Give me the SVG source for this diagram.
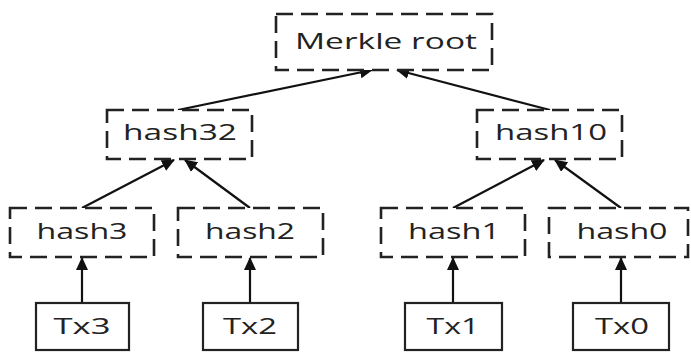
<svg xmlns="http://www.w3.org/2000/svg" width="691" height="353" viewBox="0 0 691 353">
  <style>
    .hash { fill: #fff; stroke: #222; stroke-width: 2.6; stroke-dasharray: 17 8; }
    .tx { fill: #fff; stroke: #222; stroke-width: 2.2; }
    .lbl { font-family: "Open Sans", "DejaVu Sans", sans-serif; font-size: 22px; fill: #222; text-anchor: middle; }
    .edge { stroke: #111; stroke-width: 2.2; fill: none; marker-end: url(#arrow); }
  </style>
  <defs>
    <marker id="arrow" viewBox="0 0 13 12" refX="12" refY="6" markerWidth="13" markerHeight="12" markerUnits="userSpaceOnUse" orient="auto">
      <path d="M0,0 L13,6 L0,12 Z" fill="#111"/>
    </marker>
  </defs>
  <rect width="691" height="353" fill="#fff"/>

  <g id="connectors">
    <line class="edge" x1="82" y1="303" x2="82" y2="258"/>
    <line class="edge" x1="250" y1="303" x2="250" y2="258"/>
    <line class="edge" x1="453" y1="303" x2="453" y2="258"/>
    <line class="edge" x1="621" y1="303" x2="621" y2="258"/>
    <line class="edge" x1="82" y1="208" x2="174" y2="160"/>
    <line class="edge" x1="250" y1="208" x2="185" y2="160"/>
    <line class="edge" x1="453" y1="208" x2="544" y2="160"/>
    <line class="edge" x1="621" y1="208" x2="555" y2="160"/>
    <line class="edge" x1="178" y1="110" x2="372" y2="70"/>
    <line class="edge" x1="550" y1="110" x2="397" y2="70"/>
  </g>

  <g id="merkle-root">
    <rect class="hash" x="276" y="14" width="216" height="56"/>
    <text class="lbl" x="386" y="49" textLength="182" lengthAdjust="spacingAndGlyphs">Merkle root</text>
  </g>
  <g id="hash32">
    <rect class="hash" x="107" y="110" width="145" height="49"/>
    <text class="lbl" x="180" y="140" textLength="114" lengthAdjust="spacingAndGlyphs">hash32</text>
  </g>
  <g id="hash10">
    <rect class="hash" x="477" y="110" width="145" height="49"/>
    <text class="lbl" x="551" y="140" textLength="112" lengthAdjust="spacingAndGlyphs">hash10</text>
  </g>
  <g id="hash3">
    <rect class="hash" x="10" y="208" width="144" height="49"/>
    <text class="lbl" x="82" y="239" textLength="91" lengthAdjust="spacingAndGlyphs">hash3</text>
  </g>
  <g id="hash2">
    <rect class="hash" x="178" y="208" width="145" height="49"/>
    <text class="lbl" x="250" y="239" textLength="90" lengthAdjust="spacingAndGlyphs">hash2</text>
  </g>
  <g id="hash1">
    <rect class="hash" x="381" y="208" width="144" height="49"/>
    <text class="lbl" x="454" y="239" textLength="92" lengthAdjust="spacingAndGlyphs">hash1</text>
  </g>
  <g id="hash0">
    <rect class="hash" x="549" y="208" width="139" height="49"/>
    <text class="lbl" x="622" y="239" textLength="91" lengthAdjust="spacingAndGlyphs">hash0</text>
  </g>
  <g id="tx3">
    <rect class="tx" x="36" y="303" width="93" height="47"/>
    <text class="lbl" x="82" y="334" textLength="57" lengthAdjust="spacingAndGlyphs">Tx3</text>
  </g>
  <g id="tx2">
    <rect class="tx" x="203" y="303" width="95" height="47"/>
    <text class="lbl" x="250" y="334" textLength="54" lengthAdjust="spacingAndGlyphs">Tx2</text>
  </g>
  <g id="tx1">
    <rect class="tx" x="405" y="303" width="97" height="47"/>
    <text class="lbl" x="453" y="334" textLength="53" lengthAdjust="spacingAndGlyphs">Tx1</text>
  </g>
  <g id="tx0">
    <rect class="tx" x="573" y="303" width="96" height="47"/>
    <text class="lbl" x="622" y="334" textLength="54" lengthAdjust="spacingAndGlyphs">Tx0</text>
  </g>
</svg>
